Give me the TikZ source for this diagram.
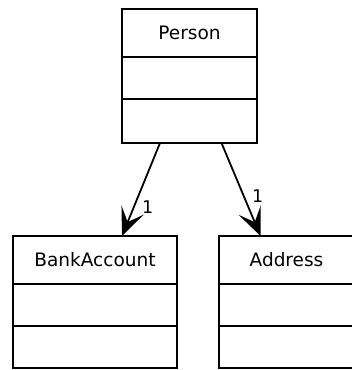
\documentclass[tikz,border=0pt]{standalone}
\usepackage{fontspec}
\setmainfont{DejaVu Sans}
\usetikzlibrary{arrows.meta,positioning}
\begin{document}
\begin{tikzpicture}[x=1pt,y=1pt,
  cls/.style 2 args={draw, line width=2.2pt, inner sep=0pt, outer sep=0pt,
    minimum width=#1, minimum height=#2,
    font=\fontsize{18.5}{20}\selectfont, text=black},
  assoc/.style={line width=1.8pt, arrows={-Stealth[length=28pt, width=24pt, inset=13pt]}},
  mult/.style={font=\fontsize{17.5}{19}\selectfont, inner sep=0pt}]
\useasboundingbox (0,0) rectangle (352,370);
\clip (0,0) rectangle (352,370);
\fill[white] (0,0) rectangle (352,370);

% Person class: name, attributes, operations
\node[cls={135}{48}, anchor=north west] (person) at (122,361) {Person};
\node[cls={135}{42}, below=0pt of person] (person-attrs) {};
\node[cls={135}{44}, below=0pt of person-attrs] (person-ops) {};

% BankAccount class
\node[cls={164}{48}, anchor=north west] (bank) at (13,134) {BankAccount};
\node[cls={164}{42}, below=0pt of bank] (bank-attrs) {};
\node[cls={164}{42}, below=0pt of bank-attrs] (bank-ops) {};

% Address class
\node[cls={135}{48}, anchor=north west] (address) at (219,134) {Address};
\node[cls={135}{42}, below=0pt of address] (address-attrs) {};
\node[cls={135}{42}, below=0pt of address-attrs] (address-ops) {};

% Associations with multiplicities
\draw[assoc] ([xshift=-29.5pt]person-ops.south) -- ([xshift=27pt]bank.north)
  node[mult, pos=0.69, xshift=14pt] {1};
\draw[assoc] ([xshift=32pt]person-ops.south) -- ([xshift=-26pt]address.north)
  node[mult, pos=0.57, xshift=14pt] {1};
\end{tikzpicture}
\end{document}
